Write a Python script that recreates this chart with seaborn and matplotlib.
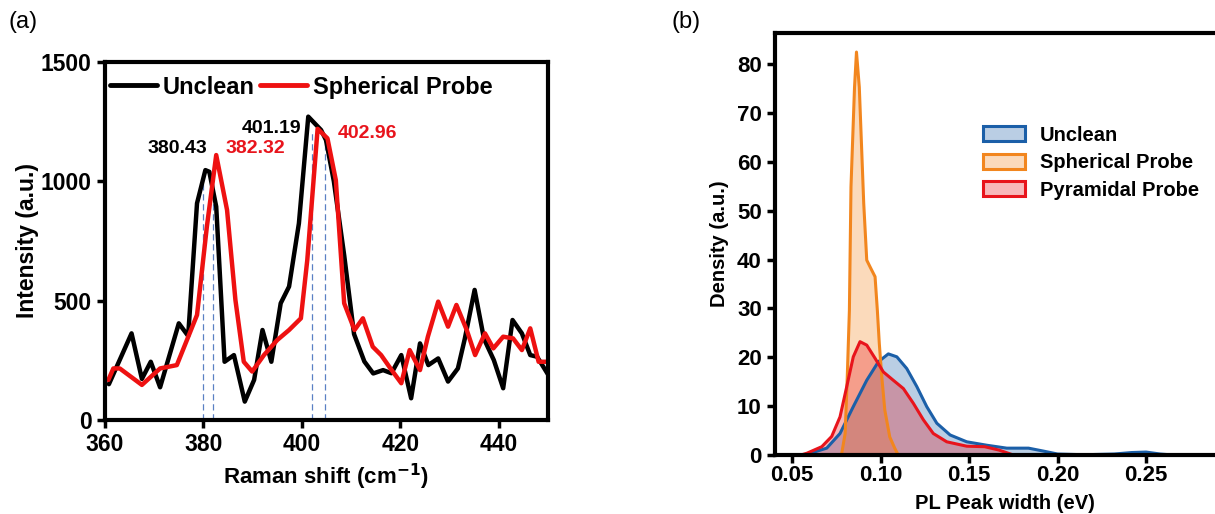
import matplotlib
matplotlib.use("Agg")
import matplotlib.pyplot as plt
from matplotlib.patches import Patch
from matplotlib.lines import Line2D
import seaborn as sns

# (a) Raman spectra
raman_unclean_x = [360.8, 365.4, 367.5, 369.3, 371.2, 375.0, 376.9, 378.7, 380.4, 381.2,
                   382.6, 384.3, 386.2, 388.4, 390.3, 392.0, 393.8, 395.7, 397.4, 399.4,
                   401.3, 403.9, 404.9, 406.5, 408.6, 410.6, 412.7, 414.5, 416.5, 418.2,
                   420.2, 422.2, 424.0, 425.7, 427.7, 429.7, 431.7, 433.1, 435.1, 437.0,
                   439.0, 440.9, 442.8, 444.7, 446.4, 447.8, 450.3]
raman_unclean_y = [150, 363, 172, 244, 137, 405, 352, 908, 1047, 1040,
                   894, 244, 272, 77, 168, 377, 244, 489, 559, 824,
                   1271, 1215, 1173, 1000, 690, 360, 245, 195, 209, 196,
                   272, 91, 321, 230, 258, 161, 216, 340, 545, 340,
                   251, 133, 419, 363, 272, 265, 181]
raman_sphere_x = [360.7, 361.7, 363.0, 367.5, 371.2, 374.6, 378.7, 380.7, 382.6, 384.8,
                  386.5, 388.2, 389.9, 392.3, 395.0, 397.4, 399.8, 401.1, 403.2, 405.2,
                  406.9, 408.6, 410.7, 412.4, 414.4, 416.1, 418.0, 420.2, 421.9, 424.0,
                  425.6, 427.7, 429.7, 431.4, 433.5, 435.2, 437.2, 438.9, 440.9, 442.9,
                  444.7, 446.4, 448.1, 450.1]
raman_sphere_y = [168, 216, 216, 147, 216, 230, 440, 810, 1110, 880,
                  503, 244, 203, 272, 335, 377, 426, 670, 1220, 1180,
                  1005, 489, 377, 426, 307, 272, 216, 154, 293, 209,
                  349, 496, 391, 482, 377, 272, 363, 300, 349, 342,
                  293, 384, 244, 244]
peak_lines_x = [379.9, 382.0, 402.1, 404.8]
peak_lines_top = [1005, 1060, 1215, 1173]
peak_labels = ["380.43", "382.32", "401.19", "402.96"]
peak_label_x = [374.7, 390.6, 393.8, 413.4]
peak_label_y = [1139, 1139, 1222, 1201]
peak_label_colors = ["black", "#e8141c", "black", "#e8141c"]

# (b) PL peak width densities
unclean_x = [0.056, 0.0602, 0.0696, 0.0771, 0.0846, 0.0922, 0.0988, 0.1044, 0.1092, 0.1148,
             0.1205, 0.1261, 0.1318, 0.1393, 0.1487, 0.160, 0.1713, 0.1836, 0.192, 0.200,
             0.215, 0.232, 0.2418, 0.250, 0.258, 0.265]
unclean_y = [0.0, 0.35, 1.4, 4.4, 9.9, 15.3, 19.1, 20.7, 20.1, 17.7,
             14.0, 9.9, 6.5, 4.1, 2.7, 2.0, 1.4, 1.4, 0.8, 0.2,
             0.05, 0.2, 0.5, 0.6, 0.2, 0.0]
sphere_x = [0.0775, 0.0781, 0.0800, 0.0812, 0.0824, 0.0833, 0.0853, 0.0864, 0.0880, 0.0905,
            0.0922, 0.0941, 0.0969, 0.0982, 0.0993, 0.1007, 0.1024, 0.1052, 0.1080, 0.1100]
sphere_y = [0.0, 0.4, 4.4, 16.0, 29.6, 54.9, 75.3, 82.5, 75.3, 51.5,
            39.9, 38.5, 36.5, 29.6, 22.8, 16.0, 9.2, 3.7, 1.4, 0.0]
pyramid_x = [0.055, 0.0583, 0.0668, 0.0724, 0.0771, 0.0809, 0.0846, 0.0884, 0.0922, 0.0969,
             0.1016, 0.1072, 0.1129, 0.1185, 0.1242, 0.1298, 0.1374, 0.1487, 0.1588, 0.167,
             0.175]
pyramid_y = [0.0, 0.35, 1.7, 3.8, 7.8, 14.0, 20.1, 23.2, 22.5, 19.8,
             17.0, 15.3, 13.6, 10.6, 7.2, 4.4, 2.7, 1.8, 1.7, 1.0,
             0.0]
density_labels = ["Unclean", "Spherical Probe", "Pyramidal Probe"]
density_colors = ["#1b5fa8", "#f2861e", "#e8141c"]

sns.set_style("ticks")
plt.rcParams['font.family'] = ['Liberation Sans', 'DejaVu Sans']
plt.rcParams['font.weight'] = 'bold'
plt.rcParams['axes.linewidth'] = 3
plt.rcParams['axes.edgecolor'] = 'black'
plt.rcParams['xtick.color'] = 'black'
plt.rcParams['ytick.color'] = 'black'
plt.rcParams['text.color'] = 'black'
plt.rcParams['axes.labelcolor'] = 'black'

fig = plt.figure(figsize=(12.15, 5.14), dpi=100)
ax1 = fig.add_axes([0.0864, 0.1829, 0.3646, 0.6965])
ax2 = fig.add_axes([0.6379, 0.1148, 0.3782, 0.8210])

# ---- panel (a)
sns.lineplot(x=raman_unclean_x, y=raman_unclean_y, ax=ax1, color="black", lw=3.2,
             estimator=None, sort=False)
sns.lineplot(x=raman_sphere_x, y=raman_sphere_y, ax=ax1, color="#ee1111", lw=3.2,
             estimator=None, sort=False)
for px, top in zip(peak_lines_x, peak_lines_top):
    ax1.plot([px, px], [0, top], ls=(0, (5, 3)), lw=0.9, color="#5a80c4", zorder=1)
for lab, lx, ly, c in zip(peak_labels, peak_label_x, peak_label_y, peak_label_colors):
    ax1.text(lx, ly, lab, color=c, fontsize=14, fontweight='bold', ha='center', va='center')

ax1.set_xlim(360, 450)
ax1.set_ylim(0, 1500)
ax1.set_xticks([360, 380, 400, 420, 440])
ax1.set_yticks([0, 500, 1000, 1500])
ax1.tick_params(labelsize=16.5, width=2.5, length=6, direction='out')
ax1.set_xlabel("Raman shift (cm$^{\\mathbf{-1}}$)", fontsize=16, fontweight='bold', labelpad=4)
ax1.set_ylabel("Intensity (a.u.)", fontsize=16.5, fontweight='bold', labelpad=1)
h_a = [Line2D([], [], color="black", lw=3.5), Line2D([], [], color="#ee1111", lw=3.5)]
ax1.legend(h_a, ["Unclean", "Spherical Probe"], loc='upper left', bbox_to_anchor=(0.0, 0.975),
           ncol=2, frameon=False, fontsize=17, handlelength=2.0, handletextpad=0.25,
           columnspacing=0.2, borderaxespad=0, borderpad=0.2)
for s in ax1.spines.values():
    s.set_linewidth(3)

# ---- panel (b)
series = [(unclean_x, unclean_y), (sphere_x, sphere_y), (pyramid_x, pyramid_y)]
for (xs, ys), c in zip(series, density_colors):
    ax2.fill_between(xs, ys, 0, color=c, alpha=0.3, lw=0)
    sns.lineplot(x=xs, y=ys, ax=ax2, color=c, lw=2.2, estimator=None, sort=False)

ax2.set_xlim(0.0404, 0.30)
ax2.set_ylim(0, 86.4)
ax2.set_xticks([0.05, 0.10, 0.15, 0.20, 0.25])
ax2.set_xticklabels(["0.05", "0.10", "0.15", "0.20", "0.25"])
ax2.set_yticks(range(0, 81, 10))
ax2.tick_params(labelsize=16, width=2.5, length=6, direction='out')
ax2.tick_params(axis='x', pad=1)
ax2.set_xlabel("PL Peak width (eV)", fontsize=14.5, fontweight='bold', labelpad=6)
ax2.set_ylabel("Density (a.u.)", fontsize=14.5, fontweight='bold', labelpad=6)
h_b = [Patch(facecolor=matplotlib.colors.to_rgba(c, 0.3), edgecolor=c, lw=2.2)
       for c in density_colors]
ax2.legend(h_b, density_labels, loc='upper left', bbox_to_anchor=(0.452, 0.78),
           frameon=False, fontsize=14.5, handlelength=2.1, handleheight=0.75,
           handletextpad=0.75, labelspacing=0.42, borderaxespad=0, borderpad=0)
for s in ax2.spines.values():
    s.set_linewidth(3)

fig.text(0.007, 0.945, "(a)", fontsize=17, fontweight='normal')
fig.text(0.553, 0.945, "(b)", fontsize=17, fontweight='normal')

fig.savefig("out.png", dpi=100)
